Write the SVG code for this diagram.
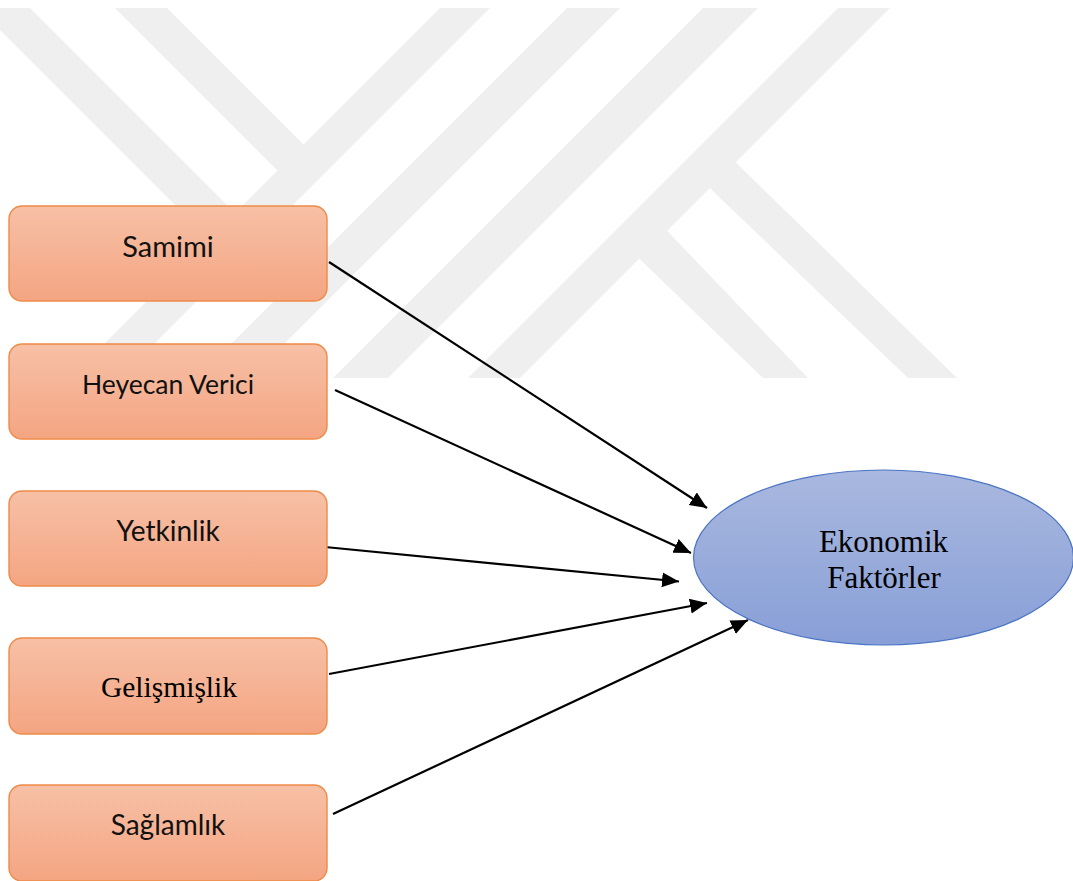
<svg xmlns="http://www.w3.org/2000/svg" width="1073" height="881" viewBox="0 0 1073 881">
  <style>
    .wm { fill: #efefef; }
    .box { fill: url(#boxGrad); stroke: #ee8a47; stroke-width: 1.4; }
    .lbl { font-family: "Lato", "Open Sans", "Liberation Sans", sans-serif; fill: #111111; text-anchor: middle; }
    .serif { font-family: "Liberation Serif", "Times New Roman", serif; fill: #000000; text-anchor: middle; }
    .conn { stroke: #000000; stroke-width: 2.2; fill: none; marker-end: url(#arrow); }
  </style>
  <defs>
    <linearGradient id="boxGrad" x1="0" y1="0" x2="0" y2="1">
      <stop offset="0" stop-color="#f7c0a6"/>
      <stop offset="1" stop-color="#f4a582"/>
    </linearGradient>
    <linearGradient id="ellGrad" x1="0" y1="0" x2="0" y2="1">
      <stop offset="0" stop-color="#a9b8df"/>
      <stop offset="1" stop-color="#889fd7"/>
    </linearGradient>
    <marker id="arrow" markerUnits="userSpaceOnUse" markerWidth="18" markerHeight="16" refX="17" refY="7.5" orient="auto">
      <path d="M0,0 L17,7.5 L0,15 Z" fill="#000000"/>
    </marker>
  </defs>

  <rect x="0" y="0" width="1073" height="881" fill="#ffffff"/>

  <g id="watermark">
    <polygon class="wm" points="440,8 490,8 120,378 70,378"/>
    <polygon class="wm" points="567,8 620,8 250,378 197,378"/>
    <polygon class="wm" points="703,8 758,8 388,378 333,378"/>
    <polygon class="wm" points="838,8 890,8 520,378 468,378"/>
    <polygon class="wm" points="115,8 167,8 313,154 287,180"/>
    <polygon class="wm" points="0,8 30,8 245,223 219,249 0,30"/>
    <polygon class="wm" points="720,147 957,378 908,378 693,172"/>
    <polygon class="wm" points="650,213 808,378 763,378 622,242"/>
  </g>

  <g id="connectors">
    <path class="conn" d="M329,262 L707,508"/>
    <path class="conn" d="M335,390 L691,553"/>
    <path class="conn" d="M325,547 L679,581.5"/>
    <path class="conn" d="M329,674 L707,603"/>
    <path class="conn" d="M333,814 L748,620"/>
  </g>

  <g id="node-samimi">
    <rect class="box" x="9" y="206" width="318" height="95" rx="13" ry="13"/>
    <text class="lbl" x="168" y="257" font-size="29">Samimi</text>
  </g>
  <g id="node-heyecan">
    <rect class="box" x="9" y="344" width="318" height="95" rx="13" ry="13"/>
    <text class="lbl" x="168" y="394" font-size="26.5">Heyecan Verici</text>
  </g>
  <g id="node-yetkinlik">
    <rect class="box" x="9" y="491" width="318" height="95" rx="13" ry="13"/>
    <text class="lbl" x="168" y="541" font-size="28">Yetkinlik</text>
  </g>
  <g id="node-gelismislik">
    <rect class="box" x="9" y="638" width="318" height="96" rx="13" ry="13"/>
    <text class="serif" x="169" y="697" font-size="29.5">Gelişmişlik</text>
  </g>
  <g id="node-saglamlik">
    <rect class="box" x="9" y="785" width="318" height="96" rx="13" ry="13"/>
    <text class="lbl" x="168" y="835" font-size="28">Sağlamlık</text>
  </g>

  <g id="node-ekonomik">
    <ellipse cx="883.5" cy="557.5" rx="190" ry="87.5" fill="url(#ellGrad)" stroke="#4a74c4" stroke-width="1.2"/>
    <text class="serif" x="883.5" y="552" font-size="31">Ekonomik</text>
    <text class="serif" x="884" y="588" font-size="31">Faktörler</text>
  </g>
</svg>
